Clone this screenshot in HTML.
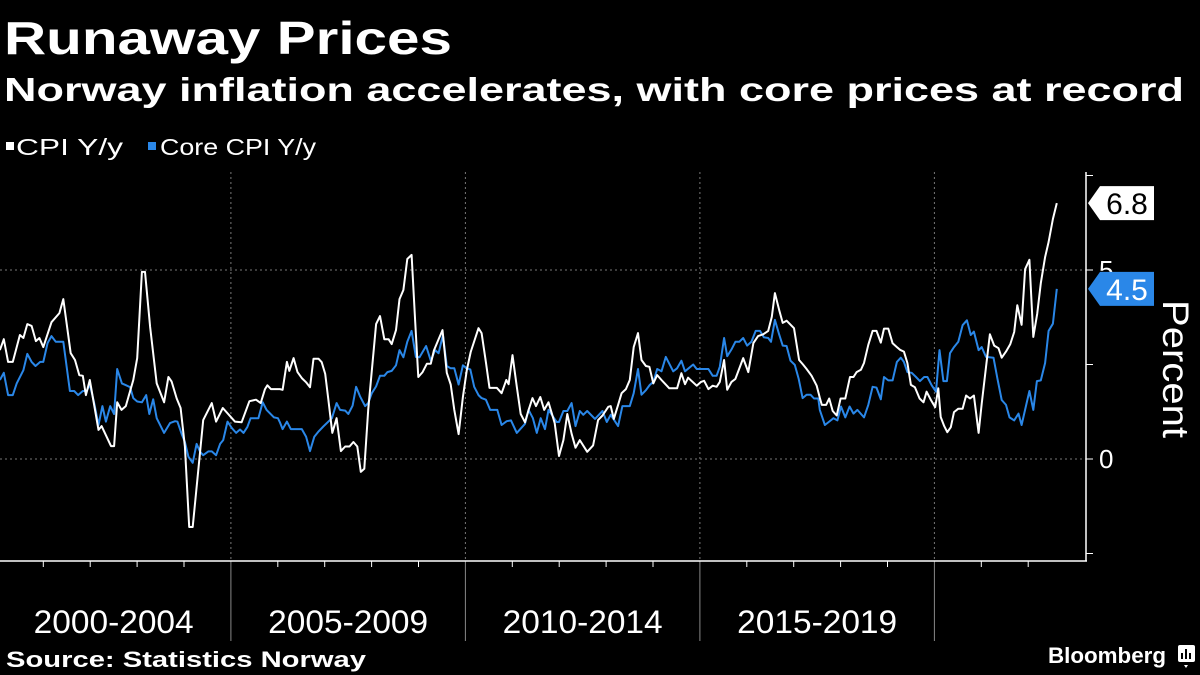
<!DOCTYPE html>
<html><head><meta charset="utf-8">
<style>
html,body{margin:0;padding:0;background:#000;}
svg{display:block;font-family:"Liberation Sans",sans-serif;}
</style></head>
<body>
<svg id="chart" width="1200" height="675" viewBox="0 0 1200 675" xmlns="http://www.w3.org/2000/svg">
<rect width="1200" height="675" fill="#000"/>
<text x="4" y="54" fill="#fff" font-size="46" font-weight="bold" textLength="448" lengthAdjust="spacingAndGlyphs">Runaway Prices</text>
<text x="4" y="101" fill="#fff" font-size="33" font-weight="bold" textLength="1180" lengthAdjust="spacingAndGlyphs">Norway inflation accelerates, with core prices at record</text>
<g>
<g><rect x="6" y="142" width="8" height="8" fill="#fff"/><text x="16" y="155" fill="#fff" font-size="23" textLength="107" lengthAdjust="spacingAndGlyphs">CPI Y/y</text></g>
<g><rect x="148" y="142" width="8" height="8" fill="#2a87e8"/><text x="160" y="155" fill="#fff" font-size="23" textLength="156" lengthAdjust="spacingAndGlyphs">Core CPI Y/y</text></g>
</g>
<g id="grid"></g>
<g id="axes"></g>
<g id="series"></g>
<g id="labels"></g>
<text transform="translate(1163,300) rotate(90)" fill="#fff" font-size="37" textLength="138" lengthAdjust="spacingAndGlyphs">Percent</text>
<text x="6" y="667" fill="#fff" font-size="22" font-weight="bold" textLength="360" lengthAdjust="spacingAndGlyphs">Source: Statistics Norway</text>
<g>
<text x="1048" y="663" fill="#fff" font-size="22" font-weight="bold" textLength="118" lengthAdjust="spacingAndGlyphs">Bloomberg</text>
<rect x="1178" y="645" width="17" height="17" rx="2" fill="#fff"/>
<path d="M1184 665 L1186 668 L1188 665 Z" fill="#fff"/>
<rect x="1181" y="653" width="2" height="6" fill="#000"/><rect x="1185" y="649" width="2" height="10" fill="#000"/><rect x="1189" y="653" width="2" height="6" fill="#000"/>
</g>
</svg>
<script>
const cpiM=[0.9,1.9,3.0,4.2,6.0,6.9,7.9,9.0,10.1,11.0,12.0,14.1,16.1,17.1,19.0,20.1,21.2,22.1,22.9,23.9,26.1,26.9,29.3,30.1,30.9,32.0,33.1,35.0,36.0,37.2,38.0,39.3,41.0,42.9,44.0,44.8,46.1,47.1,48.2,49.3,50.2,52.9,55.1,56.2,57.9,61.0,62.7,64.7,66.4,67.6,68.7,69.3,70.2,72.5,
73.2,74.3,74.9,76.0,77.0,78.1,79.2,80.2,81.1,82.4,83.2,84.1,84.9,85.9,87.0,88.1,89.2,90.3,91.3,92.3,93.2,94.1,95.1,97.1,98.1,99.2,100.3,101.1,102.2,103.1,104.1,105.1,106.2,107.1,107.9,109.0,110.1,111.1,111.9,113.1,114.1,115.2,116.2,117.1,118.2,119.3,120.3,121.3,123.3,124.1,125.2,126.1,128.0,129.2,130.4,131.0,132.0,133.1,134.1,135.2,136.1,137.1,138.0,139.1,140.1,141.2,
142.8,143.9,145.0,146.0,147.1,148.1,149.2,151.1,152.6,153.9,155.0,156.5,157.1,157.9,159.0,159.9,161.0,162.0,163.0,164.1,165.0,166.1,167.0,168.0,169.0,170.1,172.1,174.1,175.2,176.1,176.9,179.1,180.2,181.0,182.1,183.2,184.2,185.0,186.1,186.9,188.0,189.0,191.0,192.3,193.6,194.8,196.1,197.4,198.3,199.1,200.2,201.1,202.1,204.0,205.3,206.3,207.2,208.5,209.8,210.6,
211.1,212.2,213.0,213.9,214.9,215.9,217.1,218.3,219.2,220.0,221.1,221.9,223.0,224.1,225.1,226.2,227.0,228.1,229.2,230.3,231.1,232.1,233.0,233.9,234.9,236.1,237.1,237.9,239.0,240.1,240.9,241.5,242.4,243.2,244.1,244.9,246.0,247.1,248.0,249.0,250.0,251.2,252.0,253.1,254.1,255.2,256.3,257.1,258.2,259.3,260.3,261.1,262.2,263.1,264.2,265.2,266.2,267.1,268.2,269.1,270.2,271.2];
const cpiV=[2.88,3.17,2.57,2.57,3.28,3.2,3.57,3.52,3.12,3.2,2.96,3.62,3.86,4.23,2.8,2.62,2.22,2.2,1.69,2.09,0.77,0.87,0.34,0.34,1.5,1.3,1.4,2.09,2.67,4.95,4.95,3.5,2.0,1.5,2.17,2.05,1.6,1.35,0.33,-1.8,-1.8,1.03,1.48,0.99,1.35,0.99,0.97,1.53,1.57,1.48,1.85,1.95,1.85,1.85,
1.83,2.57,2.33,2.67,2.3,2.14,2.03,1.9,2.65,2.65,2.56,2.25,1.56,0.69,1.08,0.21,0.33,0.33,0.45,0.33,-0.34,-0.26,1.3,3.57,3.78,3.17,3.17,3.04,3.41,4.23,4.47,5.29,5.4,3.63,2.17,2.3,2.52,2.52,2.87,3.17,3.41,2.28,1.97,1.3,0.66,1.64,2.35,2.83,3.46,3.33,2.56,1.88,1.88,1.74,2.09,1.98,2.75,1.91,1.19,0.97,1.3,1.61,1.4,1.64,1.3,1.5,
0.95,0.08,0.5,1.19,0.67,0.3,0.5,0.19,0.36,1.03,1.15,1.38,1.4,1.06,1.43,1.74,1.85,2.09,2.96,3.33,2.62,2.46,2.44,2.0,2.22,2.09,1.87,1.87,2.27,1.98,2.15,1.94,2.04,2.07,1.85,1.94,1.91,2.04,2.62,1.83,2.04,2.12,2.67,2.3,3.07,3.25,3.3,3.39,3.76,4.39,3.94,3.6,3.66,3.46,2.62,2.5,2.38,2.2,1.94,1.62,
1.43,1.43,1.6,1.27,1.15,1.6,1.6,2.17,2.17,2.3,2.36,2.54,3.02,3.39,3.39,3.08,3.45,3.45,3.06,2.96,2.89,2.84,2.54,1.96,1.9,1.6,1.5,1.78,1.56,1.37,1.87,1.11,0.87,0.71,0.84,1.24,1.33,1.33,1.68,1.6,1.68,0.69,1.46,2.43,3.3,3.0,2.93,2.68,2.84,3.04,3.36,4.07,3.55,5.02,5.27,3.23,3.84,4.65,5.34,5.74,6.35,6.77];
const coreM=[0.9,1.9,3.0,4.2,5.2,6.9,7.9,9.0,10.0,11.2,12.0,13.1,14.1,15.2,17.1,18.8,19.9,20.9,22.1,23.1,23.9,25.0,26.1,27.1,28.0,29.1,30.1,30.9,32.1,33.2,34.2,35.0,36.0,37.2,38.3,39.1,40.1,41.0,42.9,44.4,45.7,46.3,47.4,48.2,49.1,50.2,51.2,52.1,52.9,54.2,55.1,56.2,57.2,58.0,59.1,60.2,61.3,62.3,63.2,64.2,65.0,67.0,68.1,69.1,71.0,72.0,72.5,
73.2,74.3,75.3,78.1,79.2,80.2,81.3,82.4,83.6,85.8,87.0,87.9,89.2,90.0,91.1,92.0,93.0,94.3,95.1,96.0,97.1,98.1,99.2,100.0,101.1,102.2,103.1,104.1,105.1,106.2,107.3,108.2,109.9,111.1,112.2,113.1,114.2,115.2,116.2,117.1,118.2,119.3,120.3,121.2,122.2,123.3,124.1,125.2,126.3,128.1,129.2,130.5,131.6,133.1,135.2,136.1,137.2,138.2,139.2,140.3,141.2,
143.3,143.9,145,146,147.1,148.1,149.2,150.1,151.1,153.1,155,156.1,157.1,159,160.1,162,163,164.1,165,166.1,167.1,168,169,170.1,171.2,173.1,174.1,175.2,176.1,178.2,179.1,182.1,183.2,184.2,185,186.1,186.9,188,189,190,191,192,193.1,194.2,195.3,196.3,197.4,198.1,199.1,200.2,201.1,202.1,203.1,204.2,205.2,206.2,207.2,208.2,209.1,210.2,210.6,
211.9,213.0,214.1,215.1,216.0,217.1,218.2,219.2,220.2,221.9,223.0,224.1,225.1,226.2,227.0,228.1,229.2,230.3,231.3,232.1,233.0,234.1,235.2,236.2,237.3,238.1,239.2,240.3,241.2,242.2,243.1,243.9,244.9,246.0,247.1,248.2,249.2,250.0,251.2,252.0,253.1,255.0,256.0,257.1,258.2,259.1,260.3,261.4,262.2,264.2,265.2,266.1,267.1,268.2,269.1,270.2,271.2];
const coreV=[2.09,2.28,1.69,1.69,2.0,2.35,2.78,2.57,2.46,2.57,2.57,3.07,3.25,3.1,3.1,1.8,1.8,1.69,1.8,1.8,1.98,1.48,0.9,1.4,0.99,1.4,1.19,2.38,2.0,1.95,1.9,1.61,1.52,1.5,1.69,1.19,1.58,1.08,0.69,0.95,1.0,0.99,0.66,0.45,0.06,-0.1,0.4,0.19,0.1,0.2,0.2,0.1,0.4,0.5,0.99,0.82,0.69,0.78,0.69,0.85,1.08,1.08,1.5,1.3,1.1,1.08,0.97,
0.79,0.99,0.79,0.79,0.59,0.21,0.59,0.73,0.86,1.08,1.48,1.3,1.28,1.19,1.41,1.91,1.66,1.4,1.48,1.74,1.92,2.2,2.2,2.3,2.33,2.48,2.88,2.69,3.1,3.39,2.7,2.69,2.99,2.6,2.88,2.8,3.28,2.46,2.4,2.4,1.97,2.48,2.4,2.37,1.91,1.69,1.61,1.57,1.3,1.3,0.9,1.0,1.02,0.69,0.93,1.3,1.08,0.69,1.08,0.79,1.3,
0.98,0.98,1.27,1.27,1.48,0.87,1.27,1.17,1.27,1.06,1.27,0.98,1.17,0.87,1.4,1.4,1.74,2.38,1.7,1.82,1.96,2.04,2.38,2.32,2.7,2.32,2.4,2.6,2.32,2.5,2.38,2.38,2.2,2.2,2.44,3.2,2.72,2.9,3.1,3.1,3.2,3.0,3.1,3.39,3.39,3.22,3.2,3.1,3.68,3.29,3.0,2.99,2.6,2.49,2.12,1.61,1.7,1.7,1.6,1.6,1.3,
0.9,0.99,1.08,1.02,1.39,1.1,1.39,1.2,1.3,1.1,1.43,1.91,1.89,1.58,2.17,2.08,2.08,2.57,2.68,2.57,2.3,2.28,2.17,2.06,2.17,2.17,1.95,1.78,2.88,2.06,2.06,2.8,2.96,3.1,3.54,3.67,3.28,3.37,2.88,2.96,2.7,2.68,2.13,1.56,1.43,1.1,1.02,1.2,0.9,1.8,1.3,2.06,2.08,2.54,3.39,3.58,4.5];
const yTicks=[-2.5,0,2.5,5,7.5];
const yTickLabels=["","0","","5",""];
const periodLabels=["2000-2004","2005-2009","2010-2014","2015-2019"];
const lastCpi="6.8", lastCore="4.5";

const NS="http://www.w3.org/2000/svg";
const xOfM=m=>-3.6+m*3.91;
const xOfYear=yr=>-3.6+(yr-2000)*46.9;
const yOf=v=>459-v*37.8;
function mk(tag,attrs,parent){const e=document.createElementNS(NS,tag);for(const k in attrs)e.setAttribute(k,attrs[k]);parent.appendChild(e);return e;}
const grid=document.getElementById('grid'),axes=document.getElementById('axes'),series=document.getElementById('series'),labels=document.getElementById('labels');
[0,5].forEach(v=>{const l=mk('line',{x1:0,x2:1086,y1:yOf(v),y2:yOf(v),stroke:'#777','stroke-width':1,'stroke-dasharray':'2,3'},grid);

});
[2005,2010,2015,2020].forEach(yr=>{const x=xOfYear(yr);
const l=mk('line',{x1:x,x2:x,y1:172,y2:561,stroke:'#777','stroke-width':1,'stroke-dasharray':'2,3'},grid);


const s=mk('line',{x1:x,x2:x,y1:561,y2:641,stroke:'#888','stroke-width':1},grid);

});
const ax=mk('line',{x1:0,x2:1087,y1:561,y2:561,stroke:'#fff','stroke-width':1.5},axes);


const ay=mk('line',{x1:1086,x2:1086,y1:172,y2:561,stroke:'#fff','stroke-width':1.5},axes);


for(let yr=2001;yr<=2022;yr++){if(yr%5===0)continue;const x=xOfYear(yr);
const t=mk('line',{x1:x,x2:x,y1:561,y2:567,stroke:'#fff','stroke-width':1},axes);

}
yTicks.forEach((v,i)=>{const y=yOf(v);
const t=mk('line',{x1:1086,x2:1093,y1:y,y2:y,stroke:'#fff','stroke-width':1},axes);


if(yTickLabels[i]){const tx=mk('text',{x:1099,y:y+9,fill:'#fff','font-size':26},axes);tx.textContent=yTickLabels[i];

}});
periodLabels.forEach((p,i)=>{const x=(xOfYear(2000+5*i)+xOfYear(2005+5*i))/2;
const tx=mk('text',{x:x,y:633,fill:'#fff','font-size':32,'text-anchor':'middle',textLength:160,lengthAdjust:'spacingAndGlyphs'},axes);tx.textContent=p;

});
function pathD(ms,vs){return ms.map((m,i)=>(i?'L':'M')+xOfM(m).toFixed(1)+' '+yOf(vs[i]).toFixed(1)).join(' ');}
const pc=mk('path',{d:pathD(coreM,coreV),fill:'none',stroke:'#2a87e8','stroke-width':2,'stroke-linejoin':'round'},series);


const pw=mk('path',{d:pathD(cpiM,cpiV),fill:'none',stroke:'#fff','stroke-width':2,'stroke-linejoin':'round'},series);


function tag(v,txt,bg,fg,name){const y=yOf(v);
const g=mk('g',{},labels);


mk('path',{d:`M1088 ${y} L1100 ${y-17} L1154 ${y-17} L1154 ${y+17} L1100 ${y+17} Z`,fill:bg},g);
const t=mk('text',{x:1127,y:y+11,fill:fg,'font-size':30,'text-anchor':'middle'},g);t.textContent=txt;}
tag(cpiV[cpiV.length-1],lastCpi,'#fff','#000','cpi-last-value-label');
tag(coreV[coreV.length-1],lastCore,'#2a87e8','#fff','core-cpi-last-value-label');
</script>
</body></html>
